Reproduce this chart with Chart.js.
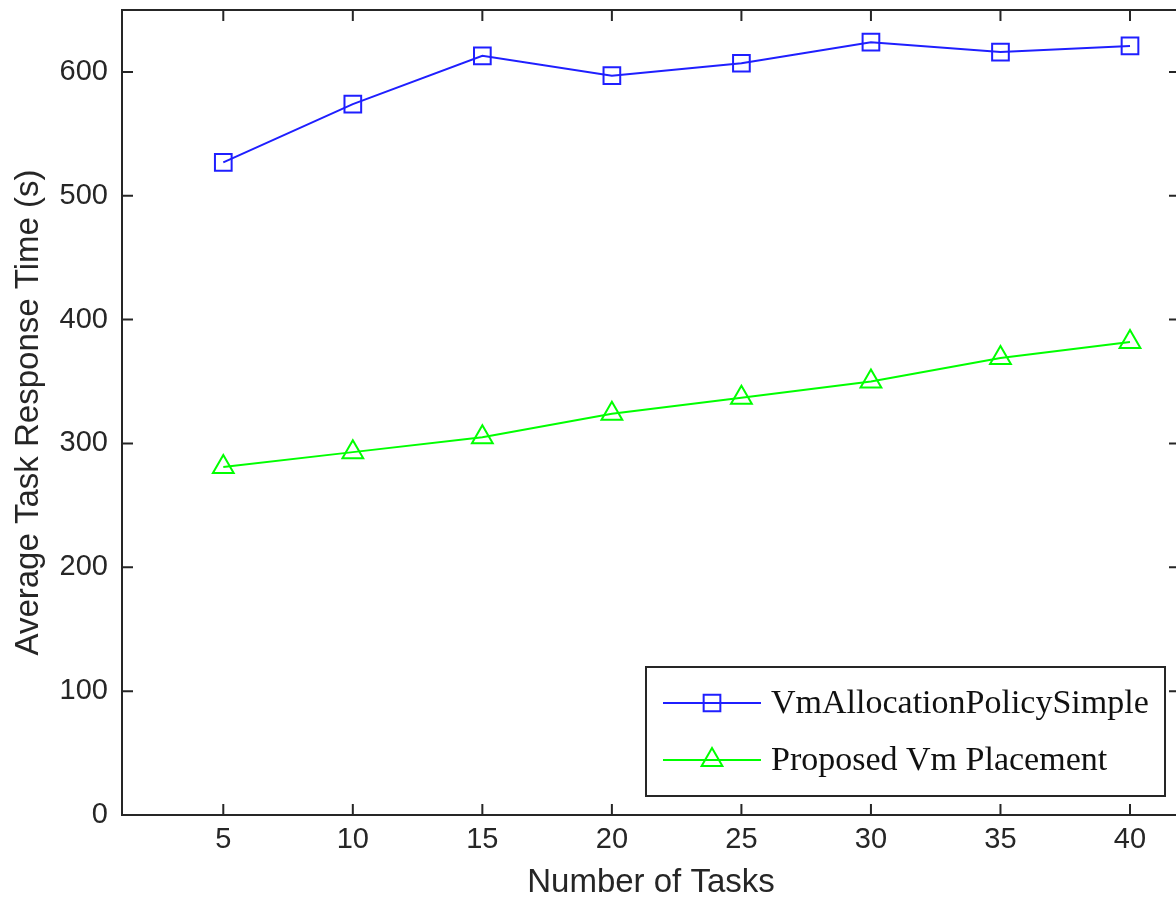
<!DOCTYPE html>
<html>
<head>
<meta charset="utf-8">
<script src="https://cdn.jsdelivr.net/npm/chart.js@4/dist/chart.umd.min.js"></script>
<style>
html,body{margin:0;padding:0;background:#fff;overflow:hidden;width:1176px;height:899px;}
canvas{display:block;}
</style>
</head>
<body>
<canvas id="c" width="1184" height="899"></canvas>
<script>
const tasks = [5, 10, 15, 20, 25, 30, 35, 40];
const simplePolicy = [527, 574, 613, 597, 607, 624, 616, 621];
const proposedPlacement = [281, 293, 305, 324, 337, 350, 369, 382];
const xTickValues = [5, 10, 15, 20, 25, 30, 35, 40];
const yTickValues = [0, 100, 200, 300, 400, 500, 600];
const seriesNames = ['VmAllocationPolicySimple', 'Proposed Vm Placement'];
const xTitle = 'Number of Tasks';
const yTitle = 'Average Task Response Time (s)';

const AXIS = '#262626';
const BLUE = '#1f1fff';
const GREEN = '#00ff00';

function drawMarker(ctx, style, x, y, r, color) {
  ctx.save();
  ctx.strokeStyle = color;
  ctx.lineWidth = 2;
  ctx.beginPath();
  if (style === 'rect') {
    const s = Math.SQRT1_2 * r;
    ctx.rect(x - s, y - s, 2 * s, 2 * s);
  } else {
    const a = 2 * Math.PI / 3;
    ctx.moveTo(x, y - r);
    ctx.lineTo(x + Math.sin(a) * r, y - Math.cos(a) * r);
    ctx.lineTo(x + Math.sin(2 * a) * r, y - Math.cos(2 * a) * r);
    ctx.closePath();
  }
  ctx.stroke();
  ctx.restore();
}

const boxPlugin = {
  id: 'matlabBox',
  beforeDatasetsDraw(chart) {
    const {ctx, chartArea: a, scales} = chart;
    ctx.save();
    ctx.strokeStyle = AXIS;
    ctx.lineWidth = 2;
    ctx.strokeRect(a.left, a.top, a.right - a.left, a.bottom - a.top);
    const tl = 11;
    ctx.beginPath();
    xTickValues.forEach(v => {
      const px = scales.x.getPixelForValue(v);
      ctx.moveTo(px, a.bottom); ctx.lineTo(px, a.bottom - tl);
      ctx.moveTo(px, a.top); ctx.lineTo(px, a.top + tl);
    });
    yTickValues.forEach(v => {
      const py = scales.y.getPixelForValue(v);
      ctx.moveTo(a.left, py); ctx.lineTo(a.left + tl, py);
      ctx.moveTo(a.right, py); ctx.lineTo(a.right - tl, py);
    });
    ctx.stroke();
    ctx.restore();
  },
  afterDraw(chart) {
    const ctx = chart.ctx;
    const bx = 646, by = 667, bw = 519, bh = 129;
    ctx.save();
    ctx.fillStyle = '#fff';
    ctx.fillRect(bx, by, bw, bh);
    ctx.strokeStyle = AXIS;
    ctx.lineWidth = 2;
    ctx.strokeRect(bx, by, bw, bh);
    const rows = [703, 760];
    chart.data.datasets.forEach((ds, i) => {
      const y = rows[i];
      ctx.strokeStyle = ds.borderColor;
      ctx.lineWidth = 2;
      ctx.beginPath();
      ctx.moveTo(663, y); ctx.lineTo(761, y);
      ctx.stroke();
      drawMarker(ctx, ds.pointStyle, 712, y, ds.pointRadius, ds.borderColor);
      ctx.fillStyle = '#111';
      ctx.font = '34px "Liberation Serif", "Times New Roman", serif';
      ctx.textBaseline = 'middle';
      ctx.textAlign = 'left';
      ctx.fillText(ds.label, 771, y + 1);
    });
    ctx.restore();
  }
};

const tickFont = {family: '"Liberation Sans", Arial, sans-serif', size: 29};
const titleFont = {family: '"Liberation Sans", Arial, sans-serif', size: 33, lineHeight: 1.0};

new Chart(document.getElementById('c'), {
  type: 'line',
  data: {
    datasets: [
      {
        label: seriesNames[0],
        data: tasks.map((t, i) => ({x: t, y: simplePolicy[i]})),
        borderColor: BLUE,
        backgroundColor: 'transparent',
        borderWidth: 2,
        pointStyle: 'rect',
        pointRadius: 11.8,
        pointBorderWidth: 2,
        pointBackgroundColor: 'transparent',
        pointBorderColor: BLUE,
        tension: 0
      },
      {
        label: seriesNames[1],
        data: tasks.map((t, i) => ({x: t, y: proposedPlacement[i]})),
        borderColor: GREEN,
        backgroundColor: 'transparent',
        borderWidth: 2,
        pointStyle: 'triangle',
        pointRadius: 12,
        pointBorderWidth: 2,
        pointBackgroundColor: 'transparent',
        pointBorderColor: GREEN,
        tension: 0
      }
    ]
  },
  options: {
    responsive: false,
    animation: false,
    devicePixelRatio: 1,
    layout: {autoPadding: false, padding: {left: 0, right: 4, top: 10, bottom: 0}},
    plugins: {legend: {display: false}, tooltip: {enabled: false}},
    scales: {
      x: {
        type: 'linear',
        min: 1.09,
        max: 41.93,
        afterBuildTicks: s => { s.ticks = xTickValues.map(v => ({value: v})); },
        afterFit: s => { s.height = 84; s.paddingLeft = 0; s.paddingRight = 0; },
        grid: {display: false, drawTicks: false},
        border: {display: false},
        ticks: {font: tickFont, color: AXIS, padding: 8, maxRotation: 0, autoSkip: false},
        title: {display: true, text: xTitle, font: titleFont, color: AXIS, padding: {top: 0, bottom: 0}}
      },
      y: {
        type: 'linear',
        min: 0,
        max: 650,
        afterBuildTicks: s => { s.ticks = yTickValues.map(v => ({value: v})); },
        afterFit: s => { s.width = 122; s.paddingTop = 0; s.paddingBottom = 0; },
        grid: {display: false, drawTicks: false},
        border: {display: false},
        ticks: {font: tickFont, color: AXIS, padding: 14, autoSkip: false},
        title: {display: true, text: yTitle, font: titleFont, color: AXIS, padding: {top: 12, bottom: 0}}
      }
    }
  },
  plugins: [boxPlugin]
});
</script>
</body>
</html>
